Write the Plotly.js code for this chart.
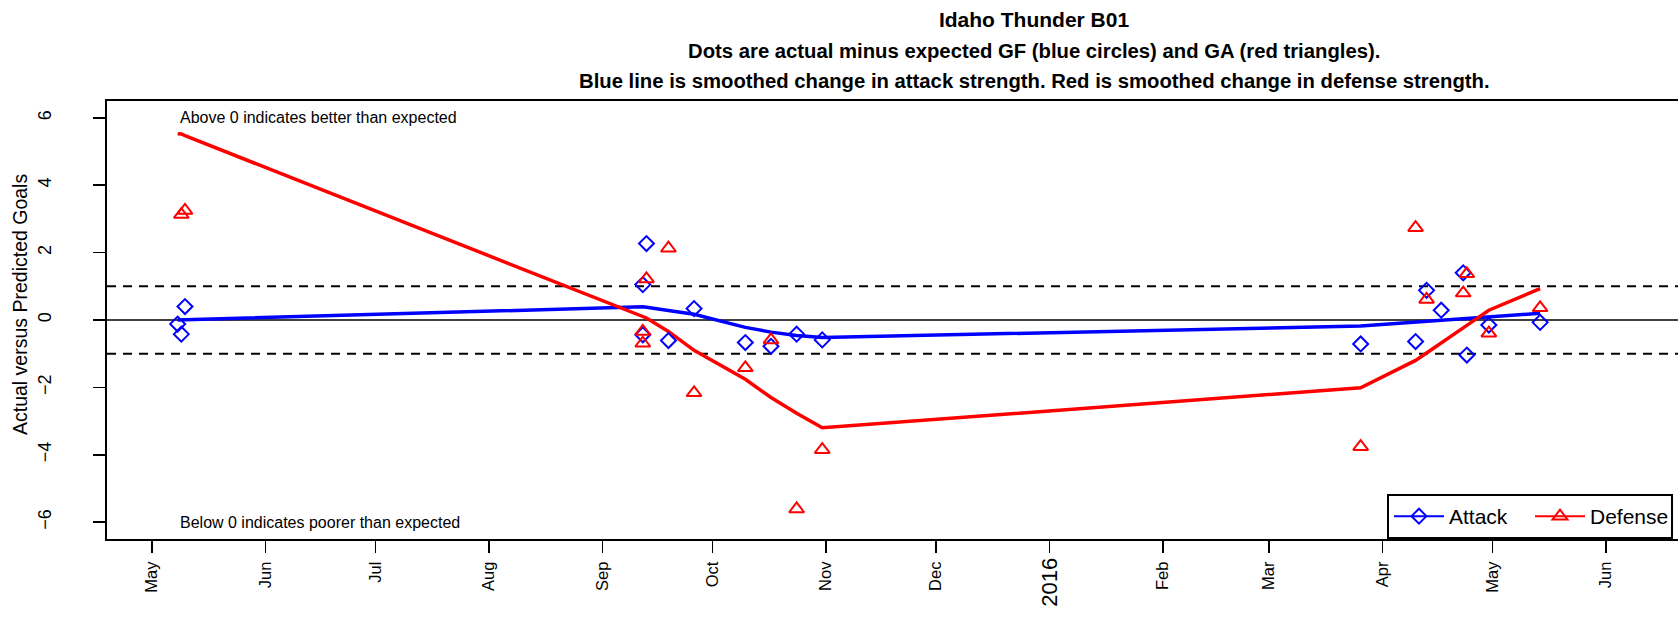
<!DOCTYPE html>
<html>
<head>
<meta charset="utf-8">
<script src="https://cdn.plot.ly/plotly-3.0.1.min.js"></script>
<style>html,body{margin:0;padding:0;background:#fff;}#chart{width:1678px;height:618px;}</style>
</head>
<body>
<div id="chart"></div>
<script>
// Actual minus expected goals for (attack) per game
const attackDates = ['2015-05-08','2015-05-09','2015-05-10','2015-09-12','2015-09-12','2015-09-13','2015-09-19','2015-09-26','2015-10-10','2015-10-17','2015-10-24','2015-10-31','2016-03-26','2016-04-10','2016-04-13','2016-04-17','2016-04-23','2016-04-24','2016-04-30','2016-05-14'];
const attackValues = [-0.12,-0.42,0.40,1.05,-0.44,2.27,-0.61,0.34,-0.67,-0.78,-0.42,-0.59,-0.71,-0.64,0.88,0.29,1.40,-1.04,-0.15,-0.07];
// Actual minus expected goals against (defense) per game
const defenseDates = ['2015-05-09','2015-05-10','2015-09-12','2015-09-12','2015-09-13','2015-09-19','2015-09-26','2015-10-10','2015-10-17','2015-10-24','2015-10-31','2016-03-26','2016-04-10','2016-04-13','2016-04-23','2016-04-24','2016-04-30','2016-05-14'];
const defenseValues = [3.13,3.25,-0.34,-0.69,1.22,2.13,-2.16,-1.42,-0.59,-5.61,-3.85,-3.76,2.74,0.61,0.80,1.37,-0.39,0.36];
// Smoothed changes in strength
const smoothDates = ['2015-05-08','2015-05-09','2015-05-10','2015-09-12','2015-09-13','2015-09-19','2015-09-26','2015-10-10','2015-10-17','2015-10-24','2015-10-31','2016-03-26','2016-04-10','2016-04-13','2016-04-17','2016-04-23','2016-04-24','2016-04-30','2016-05-14'];
const attackSmooth = [0.0,0.0,0.01,0.39,0.38,0.28,0.17,-0.22,-0.36,-0.46,-0.52,-0.18,-0.07,-0.05,-0.02,0.04,0.05,0.10,0.20];
const defenseSmooth = [5.53,5.52,5.47,0.13,0.06,-0.34,-0.90,-1.76,-2.30,-2.77,-3.20,-2.01,-1.20,-0.98,-0.69,-0.23,-0.16,0.29,0.93];
// Axis ticks
const monthTickDates = ['2015-05-01','2015-06-01','2015-07-01','2015-08-01','2015-09-01','2015-10-01','2015-11-01','2015-12-01','2016-01-01','2016-02-01','2016-03-01','2016-04-01','2016-05-01','2016-06-01'];
const monthTickLabels = ['May','Jun','Jul','Aug','Sep','Oct','Nov','Dec','2016','Feb','Mar','Apr','May','Jun'];
const yearLabel = '2016';
const yTickValues = [-6,-4,-2,0,2,4,6];
const seriesNames = ['Attack','Defense'];
const titleLines = ['Idaho Thunder B01','Dots are actual minus expected GF (blue circles) and GA (red triangles).','Blue line is smoothed change in attack strength. Red is smoothed change in defense strength.'];
const yLabel = 'Actual versus Predicted Goals';
const noteAbove = 'Above 0 indicates better than expected';
const noteBelow = 'Below 0 indicates poorer than expected';

const FONT = 'Liberation Sans, Arial, Helvetica, sans-serif';
const BLUE = '#0000FF', RED = '#FF0000';

// the year label is drawn larger, as its own text, at its tick
const tickText = monthTickLabels.map(t => t === yearLabel ? '' : t);
const yearTick = monthTickDates[monthTickLabels.indexOf(yearLabel)];

const traces = [
  {x: smoothDates, y: attackSmooth, type: 'scatter', mode: 'lines', line: {color: BLUE, width: 3.5}, showlegend: false, hoverinfo: 'skip'},
  {x: smoothDates, y: defenseSmooth, type: 'scatter', mode: 'lines', line: {color: RED, width: 3.5}, showlegend: false, hoverinfo: 'skip'},
  {x: attackDates, y: attackValues, type: 'scatter', mode: 'markers', marker: {symbol: 'diamond-open', size: 11.5, color: BLUE, line: {color: BLUE, width: 2}}, showlegend: false},
  {x: defenseDates, y: defenseValues, type: 'scatter', mode: 'markers', marker: {symbol: 'triangle-up-open', size: 13, color: RED, line: {color: RED, width: 2}}, showlegend: false},
  {x: [null], y: [null], type: 'scatter', mode: 'lines+markers', name: seriesNames[0], line: {color: BLUE, width: 2}, marker: {symbol: 'diamond-open', size: 11.5, color: BLUE, line: {color: BLUE, width: 2}}},
  {x: [null], y: [null], type: 'scatter', mode: 'lines+markers', name: seriesNames[1], line: {color: RED, width: 2}, marker: {symbol: 'triangle-up-open', size: 13, color: RED, line: {color: RED, width: 2}}}
];

const L = 107, T = 101, B = 79, W = 1678, H = 618;
const plotH = H - T - B;
const paperY = px => (H - B - px) / plotH;
const paperX = px => (px - L) / (W - L);

const layout = {
  width: W, height: H,
  margin: {l: L, r: 0, t: T, b: B, autoexpand: false},
  paper_bgcolor: '#fff', plot_bgcolor: '#fff',
  font: {family: FONT, color: '#000'},
  title: {text: '<b>' + titleLines[0] + '</b>', font: {size: 21, family: FONT, color: '#000'}, xref: 'container', x: 1034 / W, xanchor: 'center', yref: 'container', y: 1 - 20 / H, yanchor: 'middle'},
  xaxis: {
    type: 'date', range: ['2015-04-18 17:00', '2016-06-20 15:36'],
    tickmode: 'array', tickvals: monthTickDates, ticktext: tickText,
    tickangle: -90, tickfont: {size: 16.5, family: FONT, color: '#000'},
    ticks: 'outside', ticklen: 12, tickwidth: 1.5, tickcolor: '#000',
    ticklabelstandoff: 2,
    showline: true, linecolor: '#000', linewidth: 2, mirror: true,
    showgrid: false, zeroline: false, fixedrange: true
  },
  yaxis: {
    range: [-6.5, 6.5], tickmode: 'array', tickvals: yTickValues,
    tickangle: -90, tickfont: {size: 18, family: FONT, color: '#000'},
    ticks: 'outside', ticklen: 12, tickwidth: 1.5, tickcolor: '#000',
    ticklabelstandoff: 35,
    showline: true, linecolor: '#000', linewidth: 2,
    showgrid: false, zeroline: false, fixedrange: true
  },
  shapes: [
    {type: 'line', xref: 'paper', x0: 0, x1: 1, yref: 'y', y0: 0, y1: 0, line: {color: '#000', width: 1.5}, layer: 'below'},
    {type: 'line', xref: 'paper', x0: 0, x1: 1, yref: 'y', y0: 1, y1: 1, line: {color: '#000', width: 2, dash: '9px,7px'}, layer: 'below'},
    {type: 'line', xref: 'paper', x0: 0, x1: 1, yref: 'y', y0: -1, y1: -1, line: {color: '#000', width: 2, dash: '9px,7px'}, layer: 'below'}
  ],
  annotations: [
    {text: '<b>' + titleLines[1] + '</b>', xref: 'paper', yref: 'paper', x: paperX(1034), y: paperY(50.5), xanchor: 'center', yanchor: 'middle', showarrow: false, font: {size: 20.3, family: FONT, color: '#000'}},
    {text: '<b>' + titleLines[2] + '</b>', xref: 'paper', yref: 'paper', x: paperX(1034), y: paperY(81), xanchor: 'center', yanchor: 'middle', showarrow: false, font: {size: 20.3, family: FONT, color: '#000'}},
    {text: yLabel, xref: 'paper', yref: 'paper', x: paperX(20), y: paperY(305), xanchor: 'center', yanchor: 'middle', textangle: -90, showarrow: false, font: {size: 19.5, family: FONT, color: '#000'}},
    {text: yearLabel, xref: 'x', yref: 'paper', x: yearTick, y: paperY(557), xanchor: 'center', yanchor: 'top', textangle: -90, showarrow: false, borderpad: 0, font: {size: 22, family: FONT, color: '#000'}},
    {text: noteAbove, xref: 'x', yref: 'y', x: smoothDates[0], y: 6, xanchor: 'left', yanchor: 'middle', showarrow: false, font: {size: 16, family: FONT, color: '#000'}},
    {text: noteBelow, xref: 'x', yref: 'y', x: smoothDates[0], y: -6, xanchor: 'left', yanchor: 'middle', showarrow: false, font: {size: 16, family: FONT, color: '#000'}}
  ],
  legend: {
    orientation: 'h', x: paperX(1387), xanchor: 'left', y: 0, yanchor: 'bottom',
    bgcolor: '#fff', bordercolor: '#000', borderwidth: 2,
    font: {size: 21, family: FONT, color: '#000'}, itemwidth: 50,
    entrywidth: 76, entrywidthmode: 'pixels'
  },
  showlegend: true
};

Plotly.newPlot('chart', traces, layout, {displayModeBar: false, staticPlot: true});
</script>
</body>
</html>
